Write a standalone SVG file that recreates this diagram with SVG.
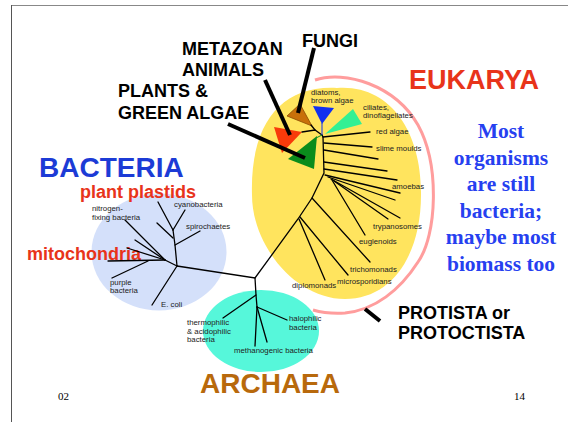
<svg xmlns="http://www.w3.org/2000/svg" width="568" height="422" viewBox="0 0 568 422">
<style>
.lbl{font-family:"Liberation Sans",Arial,sans-serif;font-size:7.8px;fill:#222}
.big{font-family:"Liberation Sans",Arial,sans-serif;font-weight:bold}
.hd{font-size:18px;fill:#000}
.red{fill:#e8341a}
.tree{stroke:#000;stroke-width:1.3;fill:none;stroke-linecap:round}
.ptr{stroke:#000;stroke-width:4;fill:none}
.pg{font-family:"Liberation Serif","Times New Roman",serif;font-size:11px;fill:#000}
.note{font-family:"Liberation Serif","Times New Roman",serif;font-weight:bold;font-size:21.5px;fill:#2640f0}
</style>
<rect width="568" height="422" fill="#fff"/>
<line x1="11" y1="5.5" x2="568" y2="5.5" stroke="#888" stroke-width="1"/>
<line x1="11.5" y1="5" x2="11.5" y2="422" stroke="#555" stroke-width="1"/>

<g id="bacteria-domain">
<ellipse cx="159" cy="252" rx="67.5" ry="58.5" fill="#d4e0fa"/>
<text class="big" x="39" y="177" font-size="28" fill="#1c3bd6">BACTERIA</text>
</g>
<g id="archaea-domain">
<ellipse cx="261" cy="331" rx="58" ry="41" fill="#56f7da"/>
<text class="big" x="200" y="393" font-size="28" fill="#b8690c">ARCHAEA</text>
</g>
<g id="eukarya-domain">
<path d="M337,88 C390,84 422,132 421,195 C421,255 392,299 345,299 C295,299 252,245 252,195 C250,125 280,85 337,88 Z" fill="#ffe45e"/>
<text class="big red" x="409" y="89" font-size="27">EUKARYA</text>
</g>
<g id="protista">
<path d="M315,80 C345,70 395,85 418,125 C440,165 437,235 418,262 C400,290 375,310 345,313 C330,314 320,312 313,310" fill="none" stroke="#ff9d9d" stroke-width="3"/>
<text class="big hd" x="398" y="319">PROTISTA or</text>
<text class="big hd" x="398" y="339">PROTOCTISTA</text>
</g>

<g id="fungi">
<polygon points="287,116 300,104 312,126" fill="#c8700a" stroke="#8a4a00" stroke-width="0.8"/>
<text class="big hd" x="302" y="47">FUNGI</text>
</g>
<g id="metazoa">
<polygon points="274,127 302,132 282,153" fill="#f83a0a"/>
<text class="big hd" x="182" y="55">METAZOAN</text>
<text class="big hd" x="182" y="76">ANIMALS</text>
</g>
<g id="plants">
<polygon points="317,136 288,159 314,169" fill="#0a8c1c"/>
<text class="big hd" x="118" y="97">PLANTS &amp;</text>
<text class="big hd" x="118" y="119">GREEN ALGAE</text>
</g>
<g id="diatoms">
<polygon points="313,106 334,108 322,124" fill="#1030f0"/>
<text class="lbl" x="311" y="95">diatoms,</text>
<text class="lbl" x="311" y="102.5">brown algae</text>
</g>
<g id="ciliates">
<polygon points="353,109 362,124 325,134" fill="#33f094"/>
<text class="lbl" x="363" y="110">ciliates,</text>
<text class="lbl" x="363" y="117.5">dinoflagellates</text>
</g>
<g id="eukarya-leaves">
<text class="lbl" x="376" y="134">red algae</text>
<text class="lbl" x="376" y="151">slime moulds</text>
<text class="lbl" x="392" y="189">amoebas</text>
<text class="lbl" x="373" y="229">trypanosomes</text>
<text class="lbl" x="359" y="244">euglenoids</text>
<text class="lbl" x="350" y="272">trichomonads</text>
<text class="lbl" x="337" y="283.5">microsporidians</text>
<text class="lbl" x="292" y="287.5">diplomonads</text>
</g>
<g id="bacteria-leaves">
<text class="big red" x="80" y="197.5" font-size="18">plant plastids</text>
<text class="big red" x="27" y="259.5" font-size="18">mitochondria</text>
<text class="lbl" x="92" y="211">nitrogen-</text>
<text class="lbl" x="92" y="220">fixing bacteria</text>
<text class="lbl" x="174" y="207">cyanobacteria</text>
<text class="lbl" x="186" y="228.5">spirochaetes</text>
<text class="lbl" x="110" y="284.5">purple</text>
<text class="lbl" x="110" y="293">bacteria</text>
<text class="lbl" x="161" y="307">E. coli</text>
</g>
<g id="archaea-leaves">
<text class="lbl" x="187" y="325">thermophilic</text>
<text class="lbl" x="187" y="333.5">&amp; acidophilic</text>
<text class="lbl" x="187" y="342">bacteria</text>
<text class="lbl" x="289" y="321">halophilic</text>
<text class="lbl" x="289" y="329.5">bacteria</text>
<text class="lbl" x="234" y="353">methanogenic bacteria</text>
</g>

<g id="connectors">
<g class="tree">
<polyline points="177,266 255,278 298,219 312,198 324,173 323,137 322,135"/>
<polyline points="255,278 256,295 257,307"/>
<line x1="256" y1="295" x2="223" y2="318"/>
<line x1="257" y1="307" x2="287" y2="320"/>
<line x1="257" y1="307" x2="255" y2="346"/>
<line x1="257" y1="307" x2="267" y2="342"/>
<polyline points="177,266 175,245 173,230"/>
<line x1="173" y1="230" x2="158" y2="202"/>
<line x1="173" y1="230" x2="185" y2="210"/>
<line x1="173" y1="238" x2="157" y2="223"/>
<line x1="175" y1="245" x2="200" y2="231"/>
<line x1="177" y1="266" x2="165" y2="260"/>
<line x1="165" y1="260" x2="125" y2="220"/>
<line x1="165" y1="260" x2="135" y2="240"/>
<line x1="165" y1="260" x2="127" y2="248"/>
<line x1="165" y1="260" x2="108" y2="261"/>
<line x1="148" y1="261" x2="112" y2="278"/>
<line x1="177" y1="266" x2="152" y2="305"/>
<line x1="323" y1="137" x2="370" y2="132"/>
<line x1="324" y1="143" x2="372" y2="147"/>
<line x1="324" y1="150" x2="378" y2="159"/>
<line x1="324" y1="162" x2="387" y2="171"/>
<line x1="324" y1="169" x2="397" y2="180"/>
<line x1="325" y1="175" x2="400" y2="193"/>
<line x1="328" y1="177" x2="395" y2="200"/>
<line x1="331" y1="179" x2="400" y2="218"/>
<line x1="334" y1="181" x2="388" y2="219"/>
<line x1="332" y1="180" x2="365" y2="235"/>
<line x1="312" y1="198" x2="370" y2="262"/>
<line x1="300" y1="217" x2="348" y2="275"/>
<line x1="299" y1="219" x2="325" y2="280"/>
<polyline points="322,135 315,130 302,132"/>
<line x1="315" y1="130" x2="311" y2="125"/>
</g>
<line x1="322" y1="135" x2="322" y2="123" stroke="#1030f0" stroke-width="1"/>
<line x1="322" y1="135" x2="316" y2="138" stroke="#0a8c1c" stroke-width="1"/>
<g class="ptr">
<line x1="314" y1="48" x2="298" y2="113"/>
<line x1="265" y1="80" x2="290" y2="135"/>
<line x1="228" y1="124" x2="305" y2="158"/>
<line x1="365" y1="309" x2="380" y2="321"/>
</g>
</g>

<g id="note">
<text class="note" text-anchor="middle" x="501" y="138">Most</text>
<text class="note" text-anchor="middle" x="501" y="164.5">organisms</text>
<text class="note" text-anchor="middle" x="501" y="191">are still</text>
<text class="note" text-anchor="middle" x="501" y="217.5">bacteria;</text>
<text class="note" text-anchor="middle" x="501" y="244">maybe most</text>
<text class="note" text-anchor="middle" x="501" y="270.5">biomass too</text>
</g>
<text class="pg" x="58" y="400">02</text>
<text class="pg" x="514" y="400">14</text>
</svg>
